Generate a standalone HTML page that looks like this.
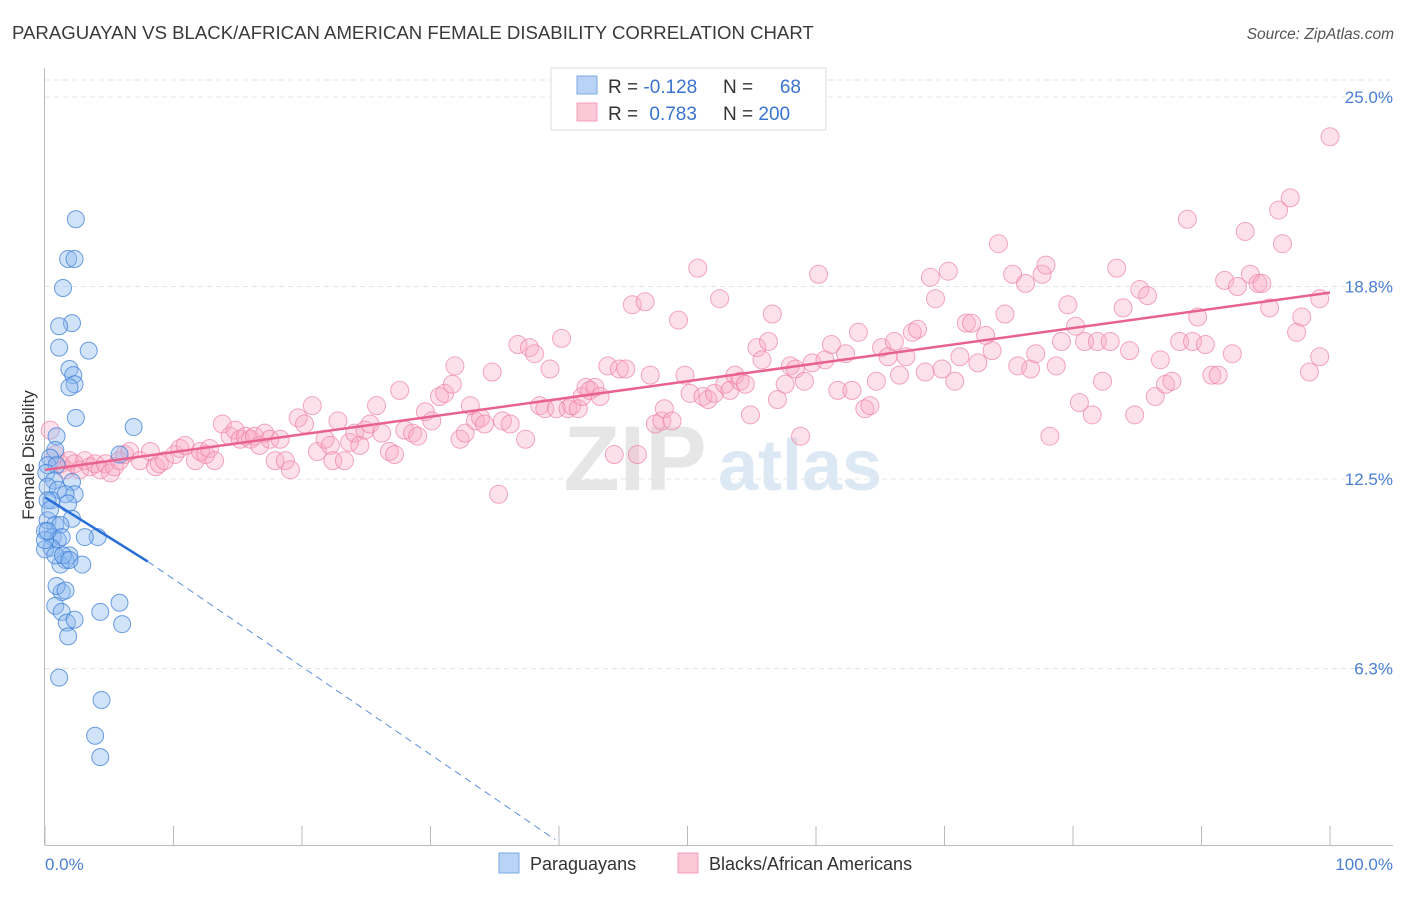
<!DOCTYPE html>
<html><head><meta charset="utf-8"><style>
body{margin:0;background:#fff;font-family:"Liberation Sans",sans-serif}
svg text{font-family:"Liberation Sans",sans-serif}
</style></head><body>
<svg id="chart" width="1406" height="892" viewBox="0 0 1406 892" xmlns="http://www.w3.org/2000/svg">
<text x="12" y="39" font-size="18.6" fill="#3a3a3a">PARAGUAYAN VS BLACK/AFRICAN AMERICAN FEMALE DISABILITY CORRELATION CHART</text>
<text x="1394" y="39" font-size="15.5" fill="#555" font-style="italic" text-anchor="end">Source: ZipAtlas.com</text>
<g>
<text x="635" y="490" font-size="92" fill="#e6e6e6" text-anchor="middle" font-family="Liberation Serif" font-weight="bold">ZIP</text>
<text x="800" y="490" font-size="72" fill="#dde8f5" text-anchor="middle" font-weight="bold">atlas</text>
</g>
<g id="grid"></g>
<g id="axes"></g>
<g id="pinkpts"></g>
<g id="bluepts"></g>
<g id="trends"></g>
<text x="34" y="455" font-size="17" fill="#333" text-anchor="middle" transform="rotate(-90 34 455)">Female Disability</text>
<text x="45" y="870" font-size="17" fill="#4a7fd4">0.0%</text>
<text x="1393" y="870" font-size="17" fill="#4a7fd4" text-anchor="end">100.0%</text>
<g>
<rect x="551" y="68" width="275" height="62" fill="#fff" stroke="#ddd"/>
<rect x="577" y="76" width="20" height="18" fill="#b8d3f5" stroke="#7aa8e0"/>
<rect x="577" y="103" width="20" height="18" fill="#fbc8d8" stroke="#f0a0b8"/>
<text x="608" y="93" font-size="19" fill="#333">R = <tspan fill="#3b73d0">-0.128</tspan></text>
<text x="723" y="93" font-size="19" fill="#333">N =</text>
<text x="801" y="93" font-size="19" fill="#3b73d0" text-anchor="end">68</text>
<text x="608" y="120" font-size="19" fill="#333">R = <tspan fill="#3b73d0" dx="6">0.783</tspan></text>
<text x="723" y="120" font-size="19" fill="#333">N = <tspan fill="#3b73d0">200</tspan></text>
</g>
<g>
<rect x="499" y="853" width="20" height="20" fill="#b8d3f5" stroke="#7aa8e0"/>
<text x="530" y="870" font-size="18" fill="#333">Paraguayans</text>
<rect x="678" y="853" width="20" height="20" fill="#fbc8d8" stroke="#f0a0b8"/>
<text x="709" y="870" font-size="18" fill="#333">Blacks/African Americans</text>
</g>
</svg>
<script>
const yTicks=[6.3,12.5,18.8,25.0];
const yTickLabels=["6.3%","12.5%","18.8%","25.0%"];
const xTicks=[0,10,20,30,40,50,60,70,80,90,100];
const blueX=[2.4,1.8,2.3,1.4,2.1,1.1,1.1,3.4,1.9,2.2,2.3,1.9,2.4,6.9,0.9,0.8,0.4,0.2,0.9,0.1,0.7,0.2,2.1,1.0,2.3,1.6,0.5,1.8,2.1,0.2,0.8,1.2,0,0.6,1.0,1.3,0.5,1.9,1.6,1.2,2.9,0,1.3,0.9,1.6,0.8,1.3,1.7,2.3,1.8,4.3,5.8,6.0,1.1,4.4,3.9,4.3,4.1,3.1,5.8,0.2,0.4,0.8,0,1.4,1.9,0.2];
const blueY=[21.0,19.7,19.7,18.75,17.6,17.5,16.8,16.7,16.1,15.9,15.6,15.5,14.5,14.2,13.9,13.45,13.2,12.95,12.95,12.7,12.45,12.25,12.4,12.15,12.0,12.0,11.8,11.7,11.2,11.15,11.0,11.0,10.8,10.6,10.5,10.6,10.25,10.0,9.85,9.7,9.7,10.2,8.8,9.0,8.85,8.35,8.15,7.8,7.9,7.35,8.15,8.45,7.75,6.0,5.27,4.1,3.4,10.6,10.6,13.3,11.8,11.5,10.0,10.5,10.0,9.85,10.8];
const pinkX=[0.4,0.8,1.2,1.6,1.9,2.3,2.7,3.1,3.5,3.9,4.3,4.7,5.1,5.4,5.8,6.2,6.6,7.4,8.2,8.6,8.9,9.3,10.1,10.5,10.9,11.7,12.1,12.5,12.8,13.2,13.8,14.4,14.8,15.2,15.6,16.0,16.3,16.7,17.1,17.5,17.9,18.3,18.7,19.1,19.7,20.2,20.8,21.2,21.8,22.2,22.4,22.8,23.3,23.7,24.1,24.5,24.9,25.3,25.8,26.2,26.8,27.2,27.6,28.0,28.6,29.0,29.6,30.1,30.7,31.1,31.7,31.9,32.3,32.7,33.1,33.5,33.9,34.2,34.8,35.3,35.6,36.2,36.8,37.4,37.7,38.1,38.5,38.9,39.3,39.8,40.2,40.7,41.0,41.5,41.8,42.1,42.4,42.8,43.2,43.8,44.3,44.7,45.2,45.7,46.1,46.7,47.1,47.5,48.0,48.2,48.8,49.3,49.8,50.2,50.8,51.2,51.6,52.1,52.5,52.9,53.3,53.7,54.1,54.5,54.9,55.4,55.8,56.3,56.6,57.0,57.6,58.0,58.4,58.8,59.1,59.7,60.2,60.7,61.2,61.7,62.3,62.8,63.3,63.8,64.2,64.7,65.1,65.6,66.1,66.5,67.0,67.5,67.9,68.5,68.9,69.3,69.8,70.3,70.8,71.2,71.7,72.1,72.6,73.2,73.7,74.2,74.7,75.3,75.7,76.3,76.7,77.1,77.6,77.9,78.2,78.7,79.1,79.6,80.2,80.5,80.9,81.5,81.9,82.3,82.9,83.4,83.9,84.4,84.8,85.2,85.8,86.4,86.8,87.2,87.7,88.3,88.9,89.3,89.7,90.3,90.8,91.3,91.8,92.4,92.8,93.4,93.8,94.4,94.7,95.3,96.0,96.3,96.9,97.4,97.8,98.4,99.2,100.0,99.2];
const pinkY=[14.1,13.3,13.0,12.8,13.1,13.0,12.8,13.1,12.9,13.0,12.8,13.0,12.7,12.9,13.1,13.3,13.4,13.1,13.4,12.9,13.0,13.1,13.3,13.5,13.6,13.1,13.4,13.3,13.5,13.1,14.3,13.9,14.1,13.8,13.9,13.8,13.9,13.6,14.0,13.8,13.1,13.8,13.1,12.8,14.5,14.3,14.9,13.4,13.8,13.6,13.1,14.4,13.1,13.7,14.0,13.6,14.1,14.3,14.9,14.0,13.4,13.3,15.4,14.1,14.0,13.9,14.7,14.4,15.2,15.3,15.6,16.2,13.8,14.0,14.9,14.4,14.5,14.3,16.0,12.0,14.4,14.3,16.9,13.8,16.8,16.6,14.9,14.8,16.1,14.8,17.1,14.8,14.9,14.8,15.2,15.5,15.4,15.5,15.2,16.2,13.3,16.1,16.1,18.2,13.3,18.3,15.9,14.3,14.4,14.8,14.4,17.7,15.9,15.3,19.4,15.2,15.1,15.3,18.4,15.6,15.4,15.9,15.7,15.6,14.6,16.8,16.4,17.0,17.9,15.1,15.6,16.2,16.1,13.9,15.7,16.3,19.2,16.4,16.9,15.4,16.6,15.4,17.3,14.8,14.9,15.7,16.8,16.5,17.0,15.9,16.5,17.3,17.4,16.0,19.1,18.4,16.1,19.3,15.7,16.5,17.6,17.6,16.3,17.2,16.7,20.2,17.9,19.2,16.2,18.9,16.1,16.6,19.2,19.5,13.9,16.2,17.0,18.2,17.5,15.0,17.0,14.6,17.0,15.7,17.0,19.4,18.1,16.7,14.6,18.7,18.5,15.2,16.4,15.6,15.7,17.0,21.0,17.0,17.8,16.9,15.9,15.9,19.0,16.6,18.8,20.6,19.2,18.9,18.9,18.1,21.3,20.2,21.7,17.3,17.8,16.0,16.5,23.7,18.4];
const pinkTrend=[12.8,18.6];
const blueTrend=[11.9,9.8,0.7];
const blueTrendX=[0,8.0,39.7];

const NS="http://www.w3.org/2000/svg";
const X0=45,X1=1330,Y0=861,YS=30.56;
function sx(v){return X0+(X1-X0)*v/100;}
function sy(v){return Y0-v*YS;}
function mk(tag,attrs,parent){const e=document.createElementNS(NS,tag);for(const k in attrs)e.setAttribute(k,attrs[k]);parent.appendChild(e);return e;}
const grid=document.getElementById('grid'),axes=document.getElementById('axes');
mk('line',{x1:45,y1:80,x2:1393,y2:80,stroke:'#e4e4e4','stroke-dasharray':'5,4'},grid);
yTicks.forEach((t,i)=>{
  const l=mk('line',{x1:45,y1:sy(t),x2:1393,y2:sy(t),stroke:'#e4e4e4','stroke-dasharray':'5,4'},grid);
  
  
  const tx=mk('text',{x:1393,y:sy(t)+6,'font-size':17,fill:'#4a7fd4','text-anchor':'end'},axes);
  tx.textContent=yTickLabels[i];
  
  
});
mk('line',{x1:44.5,y1:68,x2:44.5,y2:845,stroke:'#bbb'},axes);
mk('line',{x1:45,y1:845.5,x2:1393,y2:845.5,stroke:'#bbb'},axes);
xTicks.forEach(t=>{
  const l=mk('line',{x1:sx(t),y1:826,x2:sx(t),y2:845,stroke:'#bbb'},axes);
  
  
});
const pg=document.getElementById('pinkpts');
pinkX.forEach((x,i)=>{
  const c=mk('circle',{cx:sx(x),cy:sy(pinkY[i]),r:9,fill:'rgba(248,168,195,0.35)',stroke:'rgba(236,130,165,0.7)','stroke-width':1},pg);
  
  
});
const bg=document.getElementById('bluepts');
blueX.forEach((x,i)=>{
  const c=mk('circle',{cx:sx(x),cy:sy(blueY[i]),r:8.5,fill:'rgba(140,185,240,0.4)',stroke:'rgba(60,125,215,0.75)','stroke-width':1},bg);
  
  
});
const tg=document.getElementById('trends');
const pt=mk('line',{x1:sx(0),y1:sy(pinkTrend[0]),x2:sx(100),y2:sy(pinkTrend[1]),stroke:'#e8628f','stroke-width':2.5},tg);


const bt=mk('line',{x1:sx(blueTrendX[0]),y1:sy(blueTrend[0]),x2:sx(blueTrendX[1]),y2:sy(blueTrend[1]),stroke:'#2a6fd8','stroke-width':2.5},tg);


const bd=mk('line',{x1:sx(blueTrendX[1]),y1:sy(blueTrend[1]),x2:sx(blueTrendX[2]),y2:sy(blueTrend[2]),stroke:'#5a8fdc','stroke-width':1,'stroke-dasharray':'7,5'},tg);


</script>
</body></html>
